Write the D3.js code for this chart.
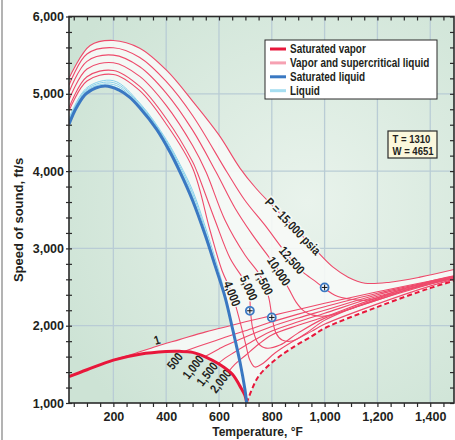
<!DOCTYPE html>
<html>
<head>
<meta charset="utf-8">
<script src="https://cdn.jsdelivr.net/npm/d3@7"></script>
<style>
  body { margin: 0; background: #fff; }
  svg { display: block; }
</style>
</head>
<body>
<svg id="chart" width="455" height="440"></svg>
<script>
// temperature (°F), speed of sound (ft/s)
const satLiquid = [[32,4605],[60,4820],[100,5010],[168,5100],[220,5050],[260,4960],[300,4820],[364,4540],[414,4250],[452,3990],[500,3620],[550,3150],[585,2780],[623,2370],[650,1980],[680,1520],[698,1180],[705,1000]]
const satVapor = [[32,1340],[100,1430],[200,1555],[300,1630],[400,1665],[450,1668],[500,1655],[550,1595],[600,1505],[650,1375],[680,1215],[698,1100],[705,1000]]
const critical = [[705,1000],[748,1336],[812,1556],[876,1711],[952,1866],[1001,1969],[1198,2240],[1399,2486],[1490,2580]]

const liquid500 = [[32,4625],[100,5028],[200,5095],[300,4835],[400,4350],[440,4100],[467,3875]]
const liquid1000 = [[32,4645],[100,5045],[200,5120],[300,4850],[400,4370],[452,4030],[500,3670],[545,3197]]
const liquid1500 = [[32,4665],[100,5062],[200,5145],[300,4865],[400,4390],[452,4060],[500,3710],[550,3210],[596,2661]]
const liquid2000 = [[32,4685],[100,5080],[200,5170],[300,4880],[400,4410],[452,4090],[500,3750],[550,3260],[600,2700],[620,2450],[636,2182]]

const vapor1 = [[100,1430],[200,1557],[263,1622],[365,1735],[450,1820],[550,1920],[642,2000],[700,2050],[800,2130],[900,2210],[1000,2290],[1200,2440],[1490,2640]]
const vapor500 = [[467,1665],[520,1730],[580,1800],[623,1850],[700,1935],[800,2050],[900,2150],[1000,2245],[1200,2420],[1490,2632]]
const vapor1000 = [[545,1597],[600,1700],[623,1740],[700,1855],[800,1990],[900,2100],[1000,2200],[1200,2400],[1490,2625]]
const vapor1500 = [[596,1507],[623,1580],[660,1660],[700,1745],[750,1845],[800,1930],[900,2050],[1000,2160],[1200,2380],[1490,2618]]
const vapor2000 = [[636,1406],[660,1500],[700,1615],[750,1760],[800,1880],[900,2005],[1000,2115],[1200,2360],[1490,2611]]

const super4000 = [[32,4780],[100,5165],[200,5250],[300,5040],[400,4610],[500,4040],[566,3235],[611,2718],[648,2428],[680,2047],[702,1749],[717,1555],[736,1465],[763,1504],[812,1646],[876,1788],[952,1930],[1001,2021],[1198,2279],[1399,2512],[1490,2600]]
const super5000 = [[32,4820],[100,5220],[200,5302],[300,5095],[400,4680],[500,4120],[517,3988],[585,3364],[642,2873],[695,2589],[714,2460],[719,2202],[729,1943],[748,1775],[778,1710],[831,1749],[899,1904],[1001,2098],[1198,2331],[1399,2537],[1490,2620]]
const super7500 = [[32,4920],[100,5320],[200,5402],[300,5225],[400,4850],[500,4330],[551,3988],[623,3364],[699,2912],[748,2692],[770,2557],[789,2357],[801,2111],[816,1904],[839,1814],[876,1801],[926,1892],[1001,2072],[1198,2344],[1399,2550],[1490,2625]]
const super10000 = [[32,5020],[100,5420],[200,5500],[300,5350],[400,5010],[500,4530],[589,3988],[661,3519],[725,3184],[778,2938],[827,2705],[865,2473],[892,2305],[922,2189],[956,2137],[1001,2124],[1096,2214],[1198,2331],[1399,2563],[1490,2635]]
const super12500 = [[32,5110],[100,5515],[200,5596],[300,5470],[400,5160],[500,4720],[630,3988],[698,3623],[774,3300],[839,3003],[876,2848],[918,2692],[964,2576],[998,2486],[1039,2395],[1096,2344],[1160,2331],[1285,2460],[1399,2576],[1490,2647]]
const super15000 = [[32,5200],[112,5625],[200,5690],[300,5590],[402,5302],[503,4893],[601,4462],[680,4036],[740,3778],[801,3558],[880,3287],[967,2977],[1032,2757],[1089,2628],[1153,2550],[1248,2563],[1361,2628],[1490,2727]]

const markers = [[717,2193],[800,2107],[1000,2495]]

const xTicks = [200, 400, 600, 800, 1000, 1200, 1400]
const yTicks = [1000, 2000, 3000, 4000, 5000, 6000]

const vaporLabels = [['1', 365, 1815], ['500', 433, 1543], ['1,000', 502, 1465], ['1,500', 555, 1375], ['2,000', 606, 1284]]
const pressureLabels = [['P = 15,000 psia', 880, 3287], ['12,500', 876, 2848], ['10,000', 827, 2705], ['7,500', 770, 2557], ['5,000', 713, 2490], ['4,000', 650, 2415]]
const legendItems = ['Saturated vapor', 'Vapor and supercritical liquid', 'Saturated liquid', 'Liquid']
const infoLines = ['T = 1310', 'W = 4651']

const svg = d3.select('#chart')
const x = d3.scaleLinear().domain([32, 1490]).range([69, 454])
const y = d3.scaleLinear().domain([1000, 6000]).range([403, 16.5])
const plotL = 69, plotR = 454, plotT = 16.5, plotB = 403

const font = '"Liberation Sans", Arial, sans-serif'
const ink = '#231f20'
const squeeze = 'scale(0.83,1)'   // condensed look

const pink = '#ee4a6b'
const red = '#e8173b'
const blue = '#3a78c2'
const cyan = '#86d0ea'

let defs = svg.append('defs')
let grad = defs.append('radialGradient').attr('id', 'bg')
  .attr('cx', '62%').attr('cy', '48%').attr('r', '72%')
grad.append('stop').attr('offset', '0%').attr('stop-color', '#e9f3ec')
grad.append('stop').attr('offset', '100%').attr('stop-color', '#cde3d5')
defs.append('clipPath').attr('id', 'plot').append('rect')
  .attr('x', plotL).attr('y', plotT).attr('width', plotR - plotL).attr('height', plotB - plotT)

// outer frame edge
svg.append('line').attr('x1', 2).attr('x2', 2).attr('y1', 0).attr('y2', 440)
  .attr('stroke', '#9a9a9a').attr('stroke-width', 1.5)

svg.append('rect')
  .attr('x', plotL).attr('y', plotT).attr('width', plotR - plotL).attr('height', plotB - plotT)
  .attr('fill', 'url(#bg)')

let line = d3.line()
  .x(d => x(d[0]))
  .y(d => y(d[1]))
  .curve(d3.curveCatmullRom.alpha(0.5))

let plot = svg.append('g').attr('clip-path', 'url(#plot)')

// grid
plot.append('g').selectAll('line').data(xTicks).enter().append('line')
  .attr('x1', d => x(d)).attr('x2', d => x(d)).attr('y1', plotT).attr('y2', plotB)
  .attr('stroke', '#b9ccd5').attr('stroke-width', 1.3)
plot.append('g').selectAll('line').data(yTicks.slice(1, -1)).enter().append('line')
  .attr('x1', plotL).attr('x2', plotR).attr('y1', d => y(d)).attr('y2', d => y(d))
  .attr('stroke', '#b9ccd5').attr('stroke-width', 1.3)

// pale area covered by the curve family
let seg = pts => line(pts).replace(/^M/, 'L')
let shade = line(super15000)
  + seg(critical.slice().reverse())
  + seg(satVapor.filter(d => d[0] >= 100).reverse())
  + seg(vapor1.filter(d => d[0] <= 642))
  + seg(satLiquid.filter(d => d[0] <= 650).reverse())
  + 'Z'
plot.append('path').attr('d', shade)
  .attr('fill', '#f7faf7').attr('fill-opacity', 0.9)

let pinkCurves = [vapor1, vapor500, vapor1000, vapor1500, vapor2000,
  super4000, super5000, super7500, super10000, super12500, super15000]
let liquidCurves = [liquid500, liquid1000, liquid1500, liquid2000]

plot.append('g').selectAll('path').data(pinkCurves).enter().append('path')
  .attr('d', line).attr('fill', 'none').attr('stroke', pink).attr('stroke-width', 1.1)

plot.append('g').selectAll('path').data(liquidCurves).enter().append('path')
  .attr('d', line).attr('fill', 'none').attr('stroke', cyan).attr('stroke-width', 1)

// inline isobar labels
let angles = [46, 49, 57, 63, 66, 68]
plot.append('g').selectAll('text').data(pressureLabels).enter().append('text')
  .attr('transform', (d, i) => `translate(${x(d[1])},${y(d[2])}) rotate(${angles[i]}) ${squeeze}`)
  .attr('text-anchor', 'middle').attr('dy', '0.35em')
  .attr('font-family', font).attr('font-weight', 'bold').attr('font-size', 12.5)
  .attr('fill', ink)
  .attr('stroke', '#f6faf6').attr('stroke-width', 3).attr('paint-order', 'stroke')
  .text(d => d[0])

plot.append('g').selectAll('text').data(vaporLabels).enter().append('text')
  .attr('transform', (d, i) => `translate(${x(d[1])},${y(d[2])}) rotate(${i === 0 ? -17 : -52}) ${squeeze}`)
  .attr('text-anchor', 'middle').attr('dy', '0.35em')
  .attr('font-family', font).attr('font-weight', 'bold').attr('font-size', 12.5)
  .attr('fill', ink)
  .text(d => d[0])

plot.append('path').attr('d', line(critical)).attr('fill', 'none')
  .attr('stroke', red).attr('stroke-width', 2).attr('stroke-dasharray', '5,3')
plot.append('path').attr('d', line(satVapor)).attr('fill', 'none')
  .attr('stroke', red).attr('stroke-width', 3)
plot.append('path').attr('d', line(satLiquid)).attr('fill', 'none')
  .attr('stroke', blue).attr('stroke-width', 3)

let mk = plot.append('g').selectAll('g').data(markers).enter().append('g')
  .attr('transform', d => `translate(${x(d[0])},${y(d[1])})`)
mk.append('circle').attr('r', 4).attr('fill', '#eef3fb')
  .attr('stroke', blue).attr('stroke-width', 1.8)
mk.append('path').attr('d', 'M-2.8,0H2.8M0,-2.8V2.8')
  .attr('stroke', '#111').attr('stroke-width', 1)

// axes
let minorX = d3.range(50, 1490, 50)
let minorY = d3.range(1000, 6001, 200)

function styleTicks(g) {
  g.select('.domain').remove()
  g.selectAll('line').attr('stroke', '#2a2a2a').attr('stroke-width', 1.2)
}

svg.append('g').attr('transform', `translate(0,${plotB})`)
  .call(d3.axisBottom(x).tickValues(minorX).tickSize(4).tickSizeOuter(0).tickFormat(''))
  .call(styleTicks)
svg.append('g').attr('transform', `translate(0,${plotT})`)
  .call(d3.axisTop(x).tickValues(minorX).tickSize(-4).tickSizeOuter(0).tickFormat(''))
  .call(styleTicks)
svg.append('g').attr('transform', `translate(${plotL},0)`)
  .call(d3.axisLeft(y).tickValues(minorY).tickSize(3).tickSizeOuter(0).tickFormat(''))
  .call(styleTicks)
svg.append('g').attr('transform', `translate(${plotL},0)`)
  .call(d3.axisLeft(y).tickValues(minorY).tickSize(-3).tickSizeOuter(0).tickFormat(''))
  .call(styleTicks)
svg.append('g').attr('transform', `translate(${plotR},0)`)
  .call(d3.axisRight(y).tickValues(minorY).tickSize(-4).tickSizeOuter(0).tickFormat(''))
  .call(styleTicks)

let xLabels = svg.append('g').attr('transform', `translate(0,${plotB})`)
  .call(d3.axisBottom(x).tickValues(xTicks).tickSize(0).tickPadding(9).tickFormat(d3.format(',')))
xLabels.select('.domain').remove()
xLabels.selectAll('text').attr('font-family', font).attr('font-weight', 'bold')
  .attr('font-size', 12.5).attr('fill', ink)

let yLabels = svg.append('g').attr('transform', `translate(${plotL},0)`)
  .call(d3.axisLeft(y).tickValues(yTicks).tickSize(0).tickPadding(5).tickFormat(d3.format(',')))
yLabels.select('.domain').remove()
yLabels.selectAll('text').attr('font-family', font).attr('font-weight', 'bold')
  .attr('font-size', 12.5).attr('fill', ink)

svg.append('rect')
  .attr('x', plotL).attr('y', plotT).attr('width', plotR - plotL).attr('height', plotB - plotT)
  .attr('fill', 'none').attr('stroke', '#2a2a2a').attr('stroke-width', 1.6)

svg.append('text').attr('x', 257.5).attr('y', 436)
  .attr('text-anchor', 'middle').attr('font-family', font).attr('font-weight', 'bold')
  .attr('font-size', 12).attr('fill', ink)
  .text('Temperature, °F')
svg.append('text').attr('transform', 'translate(23,220) rotate(-90)')
  .attr('text-anchor', 'middle').attr('font-family', font).attr('font-weight', 'bold')
  .attr('font-size', 13).attr('fill', ink)
  .text('Speed of sound, ft/s')

// legend
let legend = svg.append('g').attr('transform', 'translate(265,40)')
legend.append('rect').attr('width', 172).attr('height', 59)
  .attr('fill', '#fff').attr('stroke', '#2a2a2a').attr('stroke-width', 1)
let swatch = [red, '#f6a1b2', blue, '#a6def1']
let rows = legend.selectAll('g.item').data(legendItems).enter().append('g')
  .attr('transform', (d, i) => `translate(0,${9 + i * 13.9})`)
rows.append('line').attr('x1', 5).attr('x2', 21)
  .attr('stroke', (d, i) => swatch[i]).attr('stroke-width', 3)
rows.append('text').attr('transform', `translate(25,0) ${squeeze}`).attr('dy', '0.35em')
  .attr('font-family', font).attr('font-weight', 'bold').attr('font-size', 12)
  .attr('fill', ink)
  .text(d => d)

// readout box
let info = svg.append('g').attr('transform', 'translate(388,131)')
info.append('rect').attr('width', 49).attr('height', 27)
  .attr('fill', '#fbf7dc').attr('stroke', '#2a2a2a').attr('stroke-width', 1.2)
info.selectAll('text').data(infoLines).enter().append('text')
  .attr('transform', (d, i) => `translate(4.5,${11.5 + i * 12}) ${squeeze}`)
  .attr('font-family', font).attr('font-weight', 'bold').attr('font-size', 11.5)
  .attr('fill', ink)
  .text(d => d)
</script>
</body>
</html>
